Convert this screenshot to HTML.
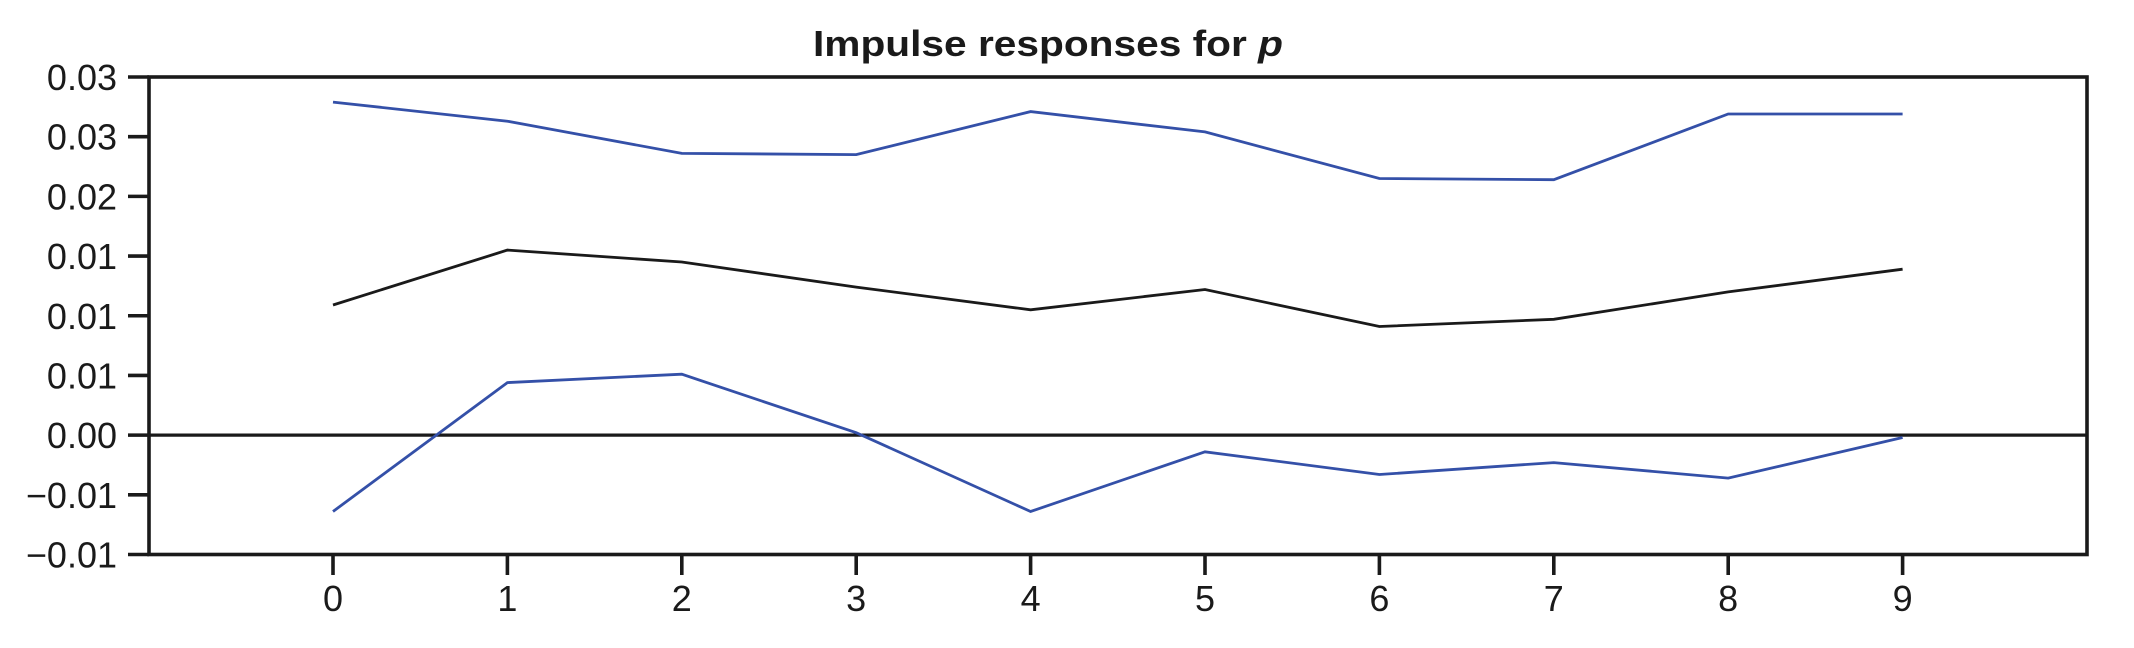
<!DOCTYPE html>
<html><head><meta charset="utf-8"><style>
html,body{margin:0;padding:0;background:#fff;}
svg{display:block;font-family:"Liberation Sans",Arial,sans-serif;}
</style></head><body>
<svg id="chart" width="2134" height="648" viewBox="0 0 2134 648">
<text x="1048" y="56" text-anchor="middle" font-size="36" font-weight="bold" fill="#1a1a1a" textLength="470" lengthAdjust="spacingAndGlyphs">Impulse responses for <tspan font-style="italic">p</tspan></text>
<g id="plot"></g>
</svg>
<script>
const periods = [0,1,2,3,4,5,6,7,8,9];
const upperBand = [0.0279,0.0263,0.0236,0.0235,0.0271,0.0254,0.0215,0.0214,0.0269,0.0269];
const response = [0.0109,0.0155,0.0145,0.0124,0.0105,0.0122,0.0091,0.0097,0.0120,0.0139];
const lowerBand = [-0.0064,0.0044,0.0051,0.0002,-0.0064,-0.0014,-0.0033,-0.0023,-0.0036,-0.0002];
const yTickValues = [-0.01,-0.005,0,0.005,0.01,0.015,0.02,0.025,0.03];
const yTickLabels = ["\u22120.01","\u22120.01","0.00","0.01","0.01","0.01","0.02","0.03","0.03"];

const NS="http://www.w3.org/2000/svg";
const g=document.getElementById('plot');
const L=149,R=2087,T=77,B=554.5;
const yMin=-0.01,yMax=0.03;
const x0=333,xStep=174.4;
function xs(v){return x0+v*xStep;}
function ys(v){return B-(v-yMin)/(yMax-yMin)*(B-T);}
function mk(tag,attrs){const e=document.createElementNS(NS,tag);for(const k in attrs)e.setAttribute(k,attrs[k]);g.appendChild(e);return e;}

const frame=mk('rect',{x:L,y:T,width:R-L,height:B-T,fill:'none',stroke:'#1a1a1a','stroke-width':3.6});



const z=mk('line',{x1:L,x2:R,y1:ys(0),y2:ys(0),stroke:'#1a1a1a','stroke-width':3.3});



yTickValues.forEach((v,i)=>{
  const t=mk('line',{x1:128,x2:L,y1:ys(v),y2:ys(v),stroke:'#1a1a1a','stroke-width':3.6});
  
  
  const lb=mk('text',{x:117,y:ys(v)+13,'text-anchor':'end','font-size':36,fill:'#1a1a1a'});
  lb.textContent=yTickLabels[i];
  
  
});
periods.forEach(p=>{
  const t=mk('line',{x1:xs(p),x2:xs(p),y1:B,y2:575,stroke:'#1a1a1a','stroke-width':3.6});
  
  
  const lb=mk('text',{x:xs(p),y:611,'text-anchor':'middle','font-size':36,fill:'#1a1a1a'});
  lb.textContent=String(p);
  
  
});
function series(arr,color,name){
  const pts=arr.map((v,i)=>xs(periods[i]).toFixed(1)+','+ys(v).toFixed(1)).join(' ');
  const pl=mk('polyline',{points:pts,fill:'none',stroke:color,'stroke-width':2.8,'stroke-linejoin':'miter'});
  
  
}
series(upperBand,'#3450a8','upper-band-line');
series(lowerBand,'#3450a8','lower-band-line');
series(response,'#1a1a1a','response-line');
</script>
</body></html>
